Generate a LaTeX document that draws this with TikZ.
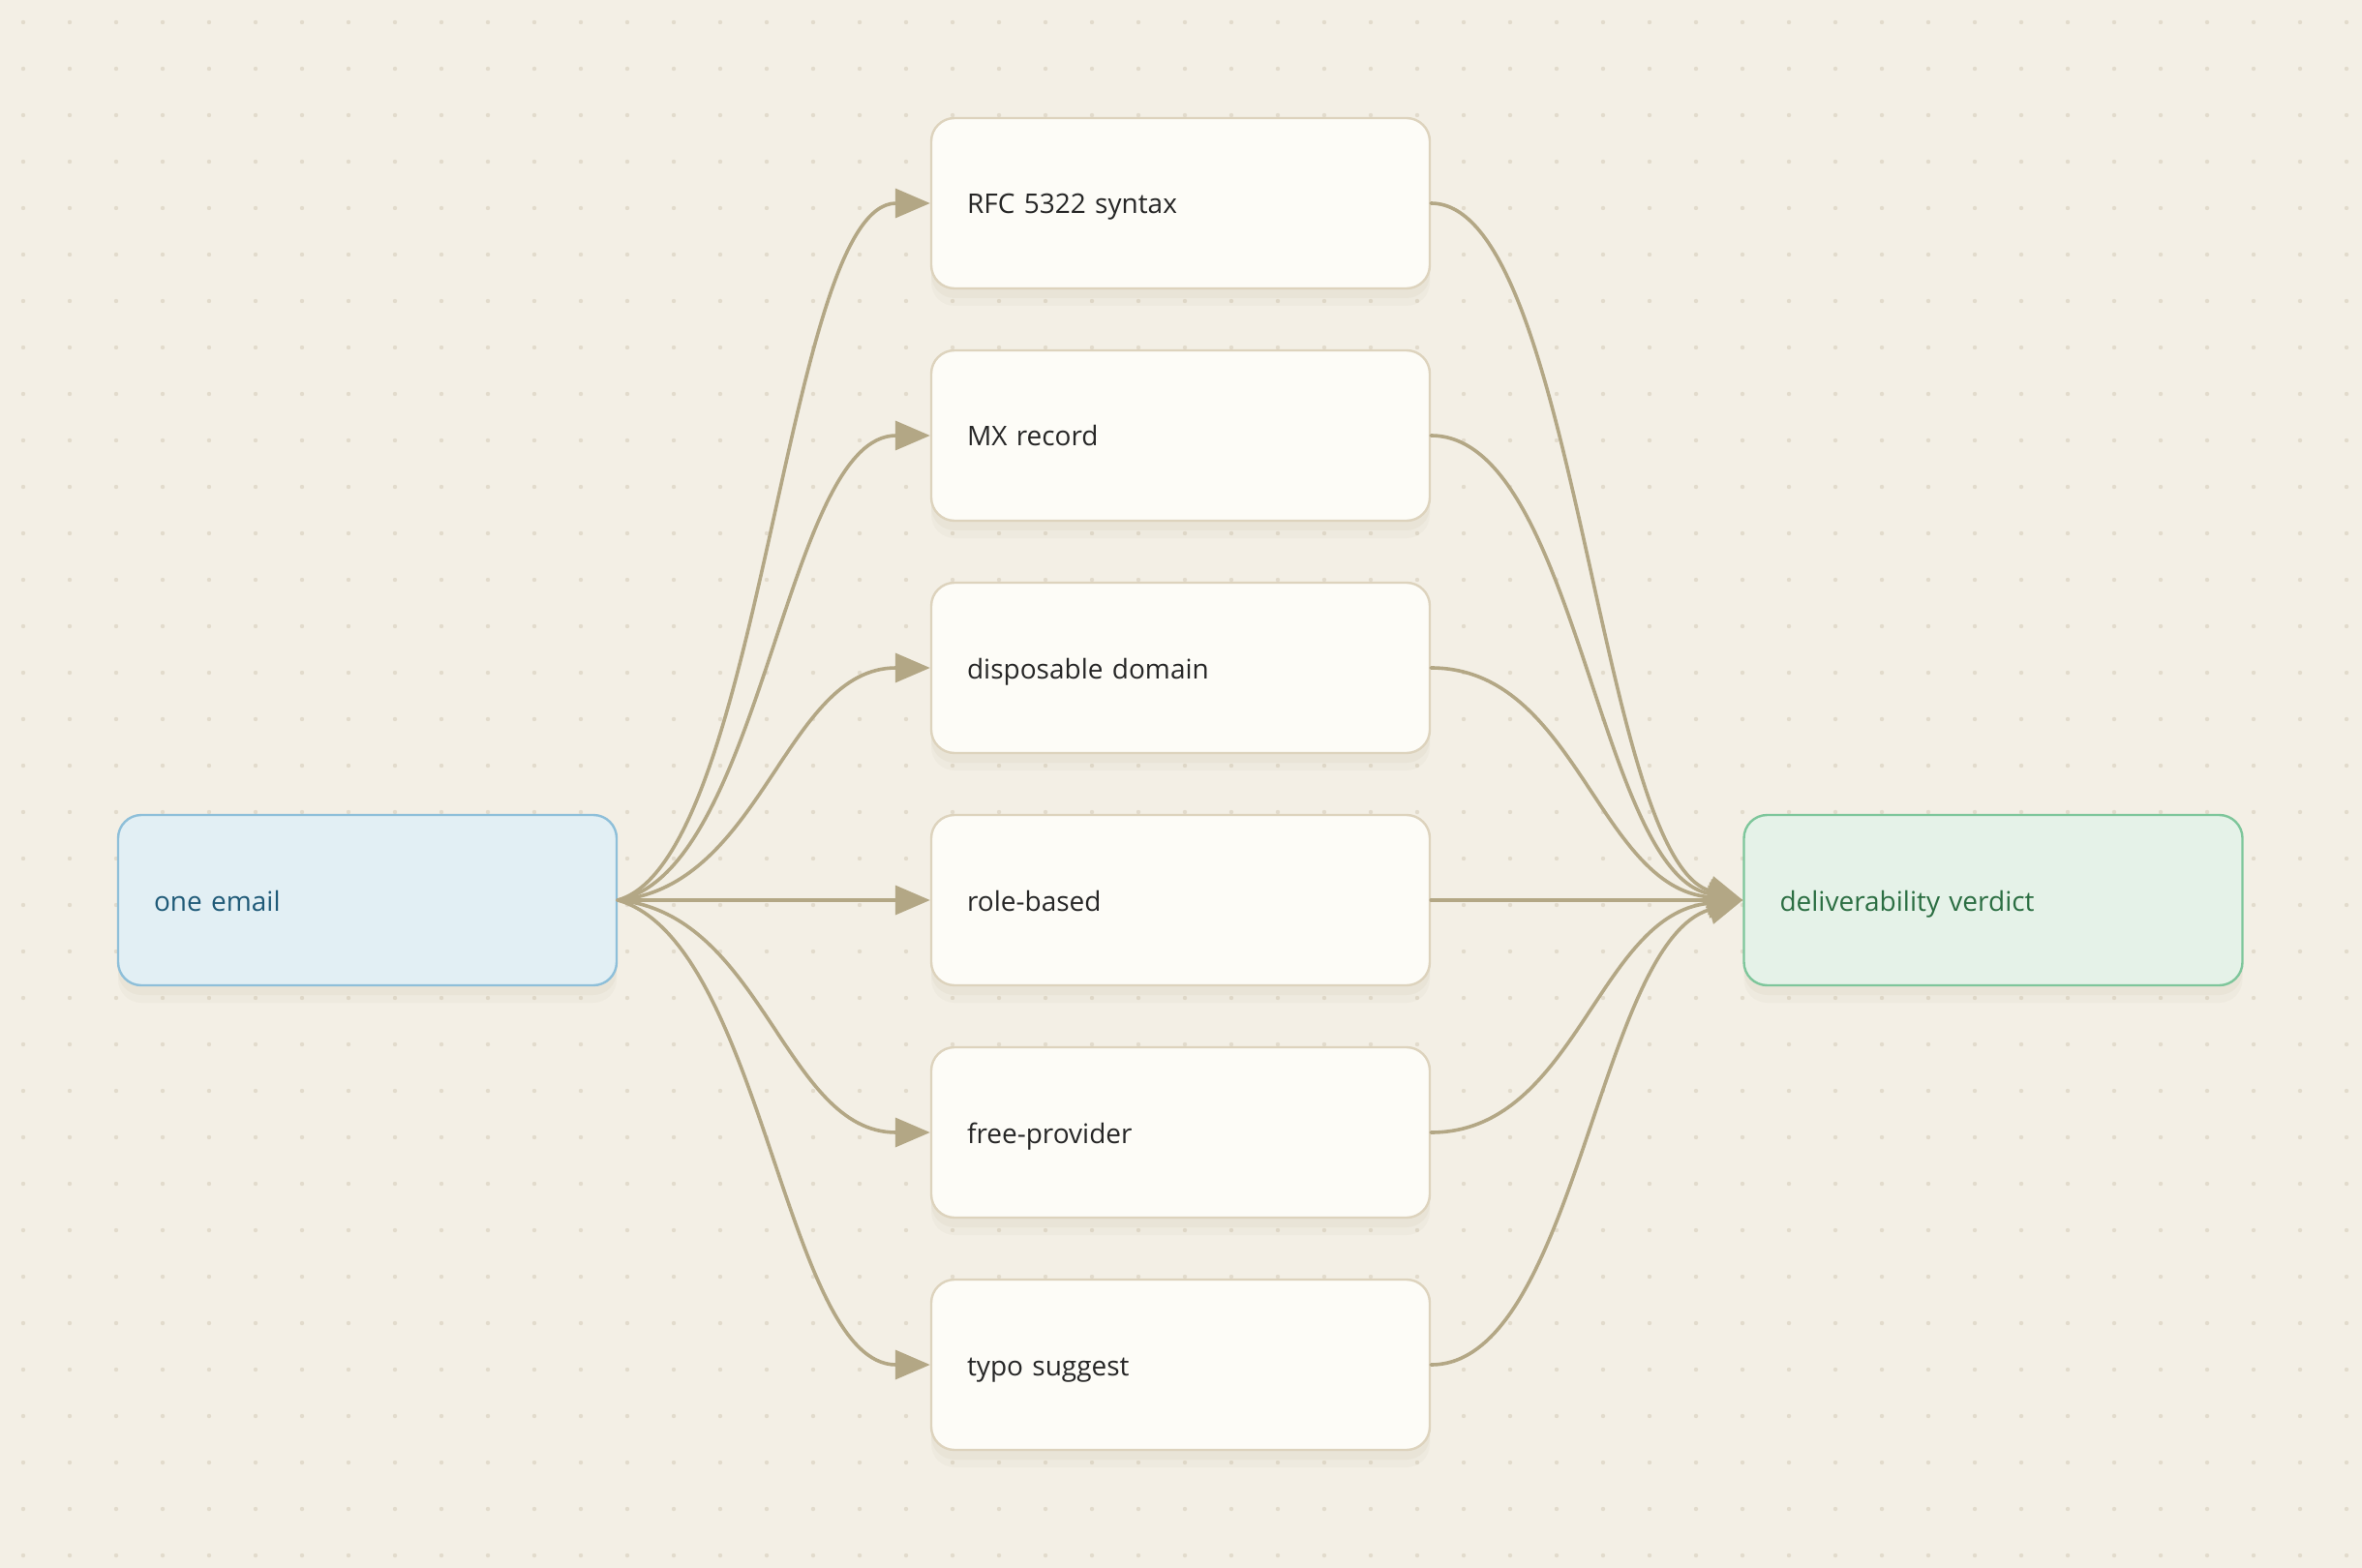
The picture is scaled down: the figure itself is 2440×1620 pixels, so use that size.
\documentclass[tikz,border=0pt]{standalone}
\usepackage{fontspec}
\setmainfont{Open Sans}
\usetikzlibrary{arrows.meta,shadows}
\definecolor{bgpaper}{HTML}{F3EFE5}
\definecolor{gridot}{HTML}{E2DBCC}
\definecolor{edgeclr}{HTML}{B3A785}
\definecolor{stepfill}{HTML}{FDFCF7}
\definecolor{stepdraw}{HTML}{DDD3BD}
\definecolor{srcfill}{HTML}{E2EFF4}
\definecolor{srcdraw}{HTML}{8EBFD9}
\definecolor{srctext}{HTML}{1F5A78}
\definecolor{outfill}{HTML}{E5F2E8}
\definecolor{outdraw}{HTML}{7EC69B}
\definecolor{outtext}{HTML}{2B6E42}
\definecolor{shadowc}{HTML}{8C7A55}

\begin{document}
\begin{tikzpicture}[line cap=round,line join=round,x=0.5pt,y=-0.5pt,
	every shadow/.style={fill=shadowc,draw=none},
	checkbox/.style={rectangle,rounded corners=12pt,line width=1.2pt,
		draw=stepdraw,fill=stepfill,text=black!85,
		text width=220.5pt,inner xsep=18.5pt,minimum height=88pt,align=left,
		text height=11pt,text depth=0pt,
		font=\fontsize{14}{17}\selectfont,
		drop shadow={shadow xshift=0pt,shadow yshift=-9pt,opacity=.04},
		drop shadow={shadow xshift=0pt,shadow yshift=-5pt,opacity=.05}},
	srcbox/.style={checkbox,draw=srcdraw,fill=srcfill,text=srctext},
	outbox/.style={checkbox,draw=outdraw,fill=outfill,text=outtext},
	edge/.style={draw=edgeclr,line width=1.8pt,-{Triangle[length=18pt,width=15pt]}}]
	\fill[bgpaper] (0,0) rectangle (2440,1620);
	\useasboundingbox (0,0) rectangle (2440,1620);
	% dotted paper
	\foreach \i in {0,...,50} {
		\foreach \j in {0,...,33} {
			\fill[gridot] (24+48*\i,23+48*\j) circle (1.1pt);
		}
	}
	% nodes
	\node[srcbox] (email) at (379.5,930) {one email};
	\node[checkbox] (rfc) at (1219.5,210) {RFC 5322 syntax};
	\node[checkbox] (mx) at (1219.5,450) {MX record};
	\node[checkbox] (disp) at (1219.5,690) {disposable domain};
	\node[checkbox] (role) at (1219.5,930) {role-based};
	\node[checkbox] (free) at (1219.5,1170) {free-provider};
	\node[checkbox] (typo) at (1219.5,1410) {typo suggest};
	\node[outbox] (verdict) at (2059,930) {deliverability verdict};
	% fan out
	\draw[edge] (email.east) .. controls +(150,-43) and +(-150,0) .. (rfc.west);
	\draw[edge] (email.east) .. controls +(150,-29) and +(-150,0) .. (mx.west);
	\draw[edge] (email.east) .. controls +(150,-14) and +(-150,0) .. (disp.west);
	\draw[edge] (email.east) -- (role.west);
	\draw[edge] (email.east) .. controls +(150,14) and +(-150,0) .. (free.west);
	\draw[edge] (email.east) .. controls +(150,43) and +(-150,0) .. (typo.west);
	% fan in
	\draw[edge] (rfc.east) .. controls +(150,0) and +(-150,-43) .. (verdict.west);
	\draw[edge] (mx.east) .. controls +(150,0) and +(-150,-29) .. (verdict.west);
	\draw[edge] (disp.east) .. controls +(150,0) and +(-150,-14) .. (verdict.west);
	\draw[edge] (role.east) -- (verdict.west);
	\draw[edge] (free.east) .. controls +(150,0) and +(-150,14) .. (verdict.west);
	\draw[edge] (typo.east) .. controls +(150,0) and +(-150,43) .. (verdict.west);
\end{tikzpicture}
\end{document}
